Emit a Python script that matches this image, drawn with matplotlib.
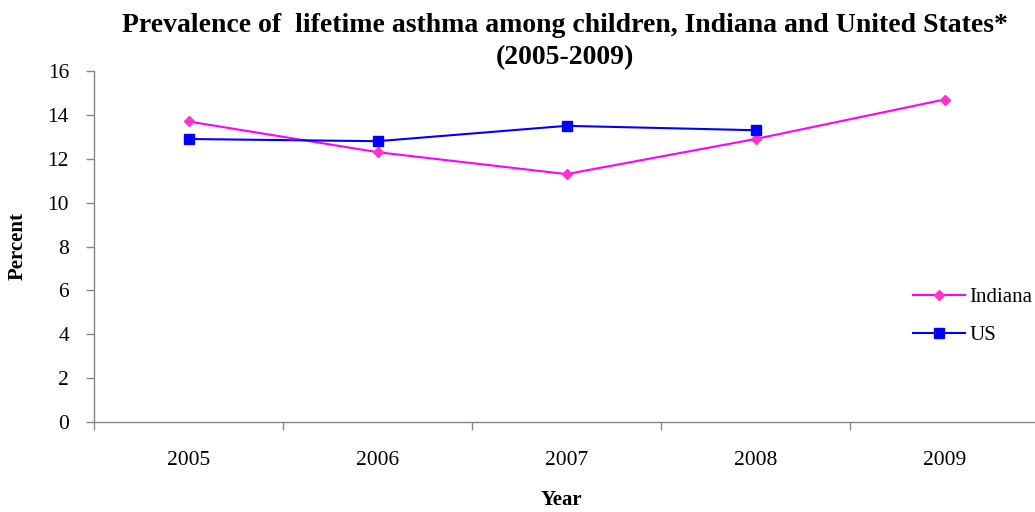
import matplotlib
matplotlib.use('Agg')
import matplotlib.pyplot as plt

# Lifetime asthma prevalence among children, percent
years = ['2005', '2006', '2007', '2008', '2009']
indiana = [13.7, 12.3, 11.3, 12.9, 14.7]
us = [12.9, 12.8, 13.5, 13.3]

plt.rcParams['font.family'] = ['Liberation Serif', 'DejaVu Serif']

fig = plt.figure(figsize=(10.35, 5.12), dpi=100)
ax = fig.add_axes([94 / 1035, 1 - 422 / 512, 945 / 1035, 351 / 512])

x = list(range(len(years)))
ax.plot(x, indiana, color='#FF00FF', lw=1.5, marker='D', markersize=5,
        markerfacecolor='#FF33CC', markeredgecolor='#FF33CC', label='Indiana')
ax.plot(x[:len(us)], us, color='#0000FF', lw=1.5, marker='s', markersize=6.5,
        markerfacecolor='#0000FF', markeredgecolor='#0000FF', label='US')

ax.set_xlim(-0.5, len(years) - 0.5)
ax.set_ylim(0, 16)
ax.set_yticks(range(0, 17, 2))
ax.set_xticks(x)
ax.set_xticklabels(years)
ax.set_xticks([i - 0.5 for i in range(len(years) + 1)], minor=True)

ax.tick_params(axis='x', which='major', length=0, pad=21, labelsize=15.5)
ax.tick_params(axis='x', which='minor', length=6, width=1, color='#868686', direction='out')
ax.tick_params(axis='y', length=6, width=1, color='#868686', direction='out', pad=12, labelsize=15.5)

for side in ['top', 'right']:
    ax.spines[side].set_visible(False)
for side in ['left', 'bottom']:
    ax.spines[side].set_color('#868686')
    ax.spines[side].set_linewidth(1)

# two-line title
fig.text(565 / 1035, 1 - 25 / 512,
         'Prevalence of  lifetime asthma among children, Indiana and United States*',
         ha='center', va='center', fontsize=20, fontweight='bold')
fig.text(565 / 1035, 1 - 58 / 512, '(2005-2009)',
         ha='center', va='center', fontsize=20, fontweight='bold')
fig.text(18 / 1035, 1 - 246 / 512, 'Percent', rotation=90, ha='center', va='center',
         fontsize=15, fontweight='bold')
fig.text(561 / 1035, 1 - 500 / 512, 'Year', ha='center', va='center',
         fontsize=15, fontweight='bold')

ax.legend(loc='center left', bbox_to_anchor=(905 / 1035, 1 - 316.5 / 512),
          bbox_transform=fig.transFigure, frameon=False, fontsize=15,
          handlelength=2.5, handletextpad=0.2, labelspacing=0.9, borderaxespad=0)

fig.savefig('out.png', dpi=100)
